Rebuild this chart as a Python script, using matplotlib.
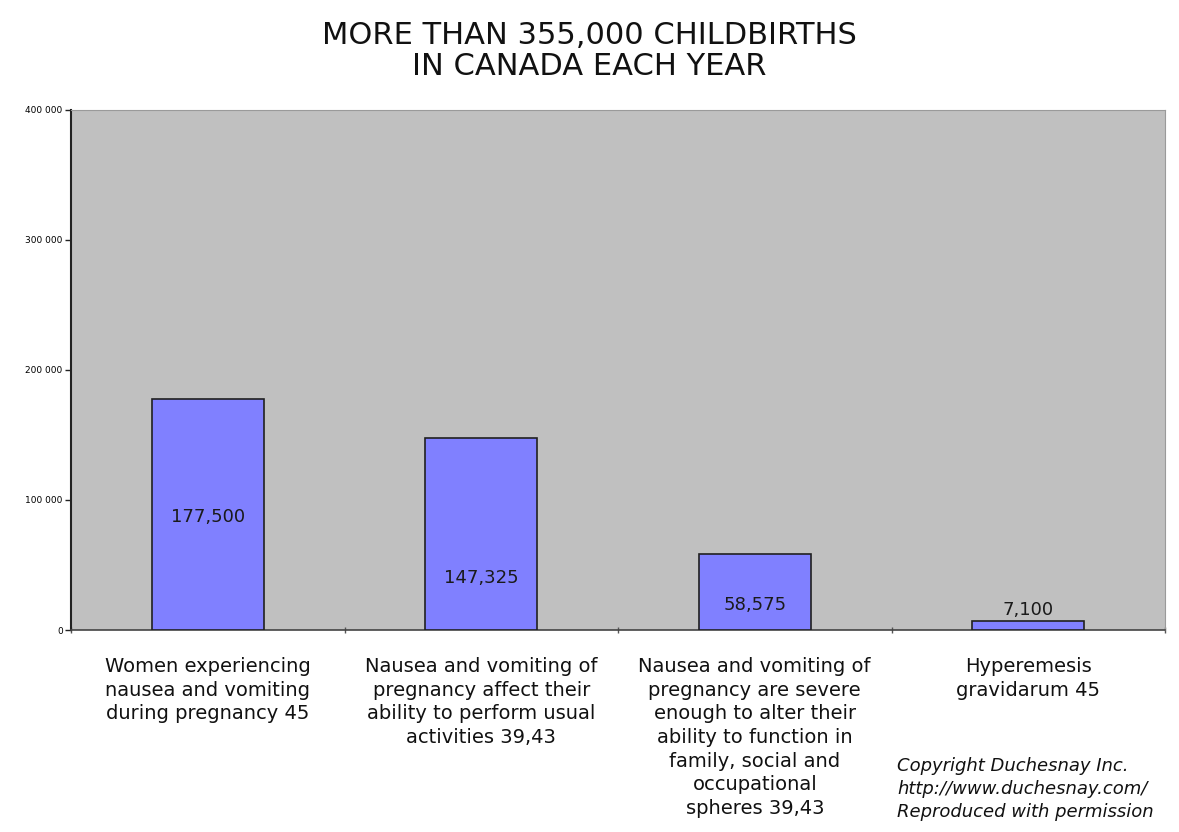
import matplotlib
matplotlib.use("Agg")
import matplotlib.pyplot as plt
from matplotlib.ticker import FuncFormatter

categories = [
    "Women experiencing\nnausea and vomiting\nduring pregnancy 45",
    "Nausea and vomiting of\npregnancy affect their\nability to perform usual\nactivities 39,43",
    "Nausea and vomiting of\npregnancy are severe\nenough to alter their\nability to function in\nfamily, social and\noccupational\nspheres 39,43",
    "Hyperemesis\ngravidarum 45",
]
values = [177500, 147325, 58575, 7100]
value_labels = ["177,500", "147,325", "58,575", "7,100"]
label_y = [86900, 40000, 19200, 15400]
yticks = [0, 100000, 200000, 300000, 400000]

title = "MORE THAN 355,000 CHILDBIRTHS\nIN CANADA EACH YEAR"
copyright_lines = ["Copyright Duchesnay Inc.", "http://www.duchesnay.com/", "Reproduced with permission"]

fig = plt.figure(figsize=(11.79, 8.32), dpi=100)
fig.patch.set_facecolor("white")
ax = fig.add_axes([71/1179, 1-630/832, (1165-71)/1179, (630-110)/832])
ax.set_facecolor("#C0C0C0")

x = list(range(len(values)))
ax.bar(x, values, width=0.41, color="#8080FF", edgecolor="#202020", linewidth=1.2, zorder=3)
for xi, lab, ly in zip(x, value_labels, label_y):
    ax.text(xi, ly, lab, ha="center", va="center", fontsize=13, color="#1a1a1a", zorder=4)

ax.set_xlim(-0.5, len(values) - 0.5)
ax.set_ylim(0, 400000)
ax.set_yticks(yticks)
ax.yaxis.set_major_formatter(FuncFormatter(lambda v, p: f"{int(v):,}".replace(",", " ")))
ax.tick_params(axis="y", labelsize=6.5, length=4, width=1, color="#222222", pad=2)

# category boundaries as x ticks
ax.set_xticks([i - 0.5 for i in range(len(values) + 1)])
ax.set_xticklabels([])
ax.tick_params(axis="x", length=5, width=1, direction="inout", color="#555555")
for xi, cat in zip(x, categories):
    ax.text(xi, -0.052, cat, transform=ax.get_xaxis_transform(), ha="center", va="top",
            fontsize=14, color="#111111", linespacing=1.31)

for side in ["top", "right"]:
    ax.spines[side].set_color("#9a9a9a")
    ax.spines[side].set_linewidth(0.8)
ax.spines["left"].set_color("#222222")
ax.spines["left"].set_linewidth(1.5)
ax.spines["bottom"].set_color("#444444")
ax.spines["bottom"].set_linewidth(1.2)

fig.text(0.5, 1-51/832, title, ha="center", va="center", fontsize=22, color="#111111", linespacing=1.05)

fig.text(897/1179, 1-789/832, "\n".join(copyright_lines), ha="left", va="center",
         fontsize=13, style="italic", color="#111111", linespacing=1.36)

fig.savefig("out.png", dpi=100, facecolor="white")
